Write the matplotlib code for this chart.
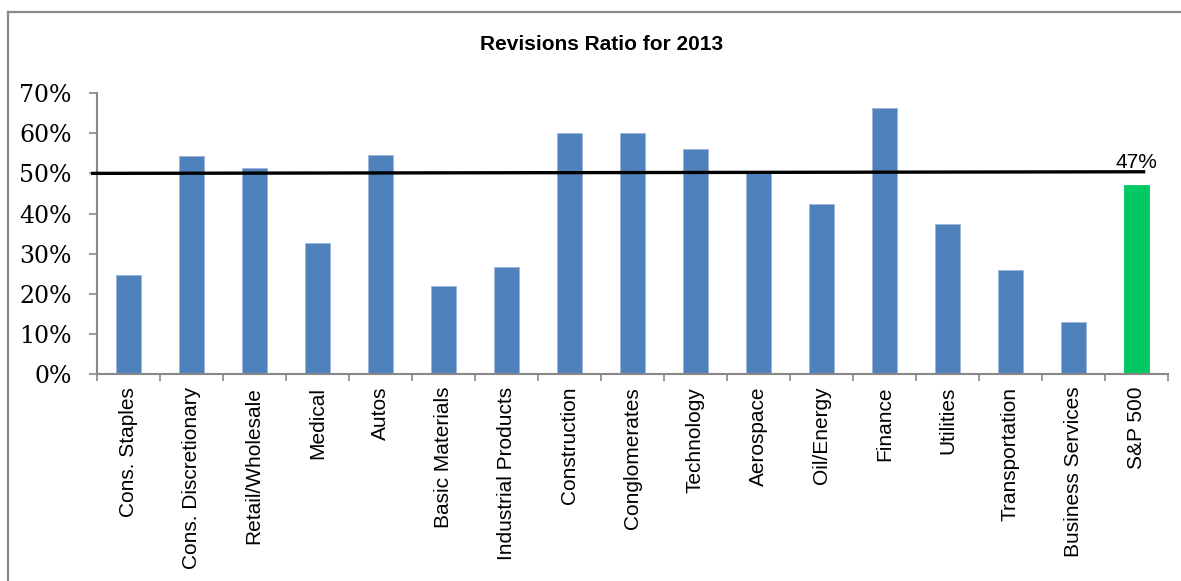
import matplotlib
matplotlib.use("Agg")
import matplotlib.pyplot as plt
from matplotlib.lines import Line2D
from matplotlib.ticker import PercentFormatter
import numpy as np

categories = ["Cons. Staples", "Cons. Discretionary", "Retail/Wholesale", "Medical",
              "Autos", "Basic Materials", "Industrial Products", "Construction",
              "Conglomerates", "Technology", "Aerospace", "Oil/Energy", "Finance",
              "Utilities", "Transportation", "Business Services", "S&P 500"]
values = [0.247, 0.543, 0.514, 0.327, 0.546, 0.220, 0.267, 0.601,
          0.601, 0.560, 0.501, 0.423, 0.662, 0.373, 0.259, 0.130, 0.47]
line_x = [-0.59, 16.14]
line_y = [0.500, 0.504]
sp_label = "47%"
title = "Revisions Ratio for 2013"

W, H, DPI = 1181, 581, 100
fig = plt.figure(figsize=(W / DPI, H / DPI), dpi=DPI)
ax = fig.add_axes([96.7 / W, 1 - 374.3 / H, (1168 - 96.7) / W, (374.3 - 93) / H])

x = np.arange(len(categories))
colors = ["#4F81BD"] * (len(categories) - 1) + ["#00C864"]
edges = ["#9DB5DA"] * (len(categories) - 1) + ["#00C864"]
ax.bar(x, values, width=0.4, color=colors, edgecolor=edges, linewidth=0.6, zorder=2)
ax.plot(line_x, line_y, color="black", lw=2.4, solid_capstyle="butt", zorder=3, clip_on=False)
ax.text(16.0, 0.503, sp_label, ha="center", va="bottom", fontsize=15,
        family="Liberation Sans", color="black")

ax.set_xlim(-0.5, len(categories) - 0.5)
ax.set_ylim(0, 0.7)
ax.set_yticks(np.arange(0, 0.71, 0.1))
ax.yaxis.set_major_formatter(PercentFormatter(1.0, decimals=0))
for lab in ax.get_yticklabels():
    lab.set_family("DejaVu Serif")
    lab.set_fontsize(17)
ax.tick_params(axis="y", length=6, width=1.2, color="#888888", pad=12)

ax.set_xticks(x)
ax.set_xticklabels(categories, rotation=90, fontsize=15, family="Liberation Sans")
ax.set_xticks(np.arange(-0.5, len(categories), 1.0), minor=True)
ax.tick_params(axis="x", which="major", length=0, pad=9)
ax.tick_params(axis="x", which="minor", length=5, width=1.2, color="#888888")

for s in ["top", "right"]:
    ax.spines[s].set_visible(False)
for s in ["left", "bottom"]:
    ax.spines[s].set_color("#888888")
    ax.spines[s].set_linewidth(1.5)

fig.text(602 / W, 1 - 45 / H, title, ha="center", va="center", fontsize=15,
         fontweight="bold", family="Liberation Sans")

# chart area border
fig.add_artist(Line2D([8 / W, 8 / W], [0, 1 - 12 / H], transform=fig.transFigure,
                      color="#888888", lw=1.6))
fig.add_artist(Line2D([8 / W, 1], [1 - 12 / H, 1 - 12 / H], transform=fig.transFigure,
                      color="#888888", lw=1.6))

fig.savefig("out.png", dpi=DPI)
